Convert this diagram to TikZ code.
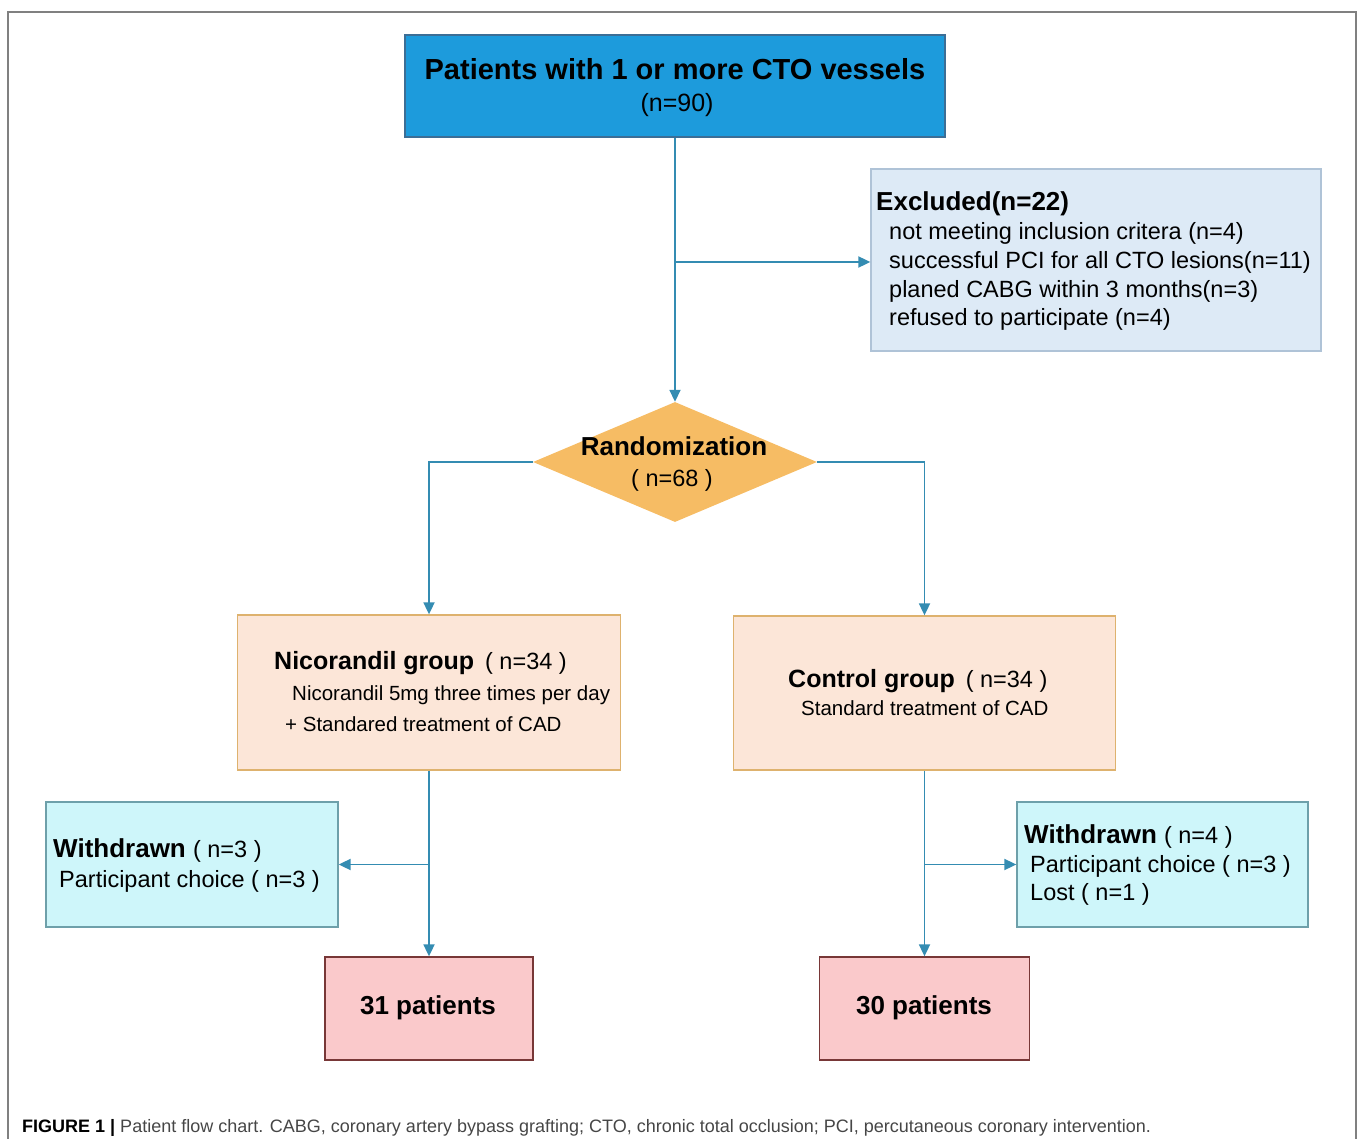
\documentclass[tikz,border=0pt]{standalone}
\usepackage{fontspec}
\setmainfont{Liberation Sans}
\usetikzlibrary{positioning,shapes.geometric,arrows.meta}

\definecolor{topblue}{RGB}{29,155,220}
\definecolor{topedge}{RGB}{60,110,150}
\definecolor{exblue}{RGB}{221,234,246}
\definecolor{exedge}{RGB}{175,195,215}
\definecolor{randorange}{RGB}{246,188,100}
\definecolor{grppeach}{RGB}{252,230,216}
\definecolor{grpedge}{RGB}{222,178,110}
\definecolor{wdcyan}{RGB}{206,246,250}
\definecolor{wdedge}{RGB}{110,160,170}
\definecolor{endpink}{RGB}{250,201,203}
\definecolor{endedge}{RGB}{120,55,55}
\definecolor{flowline}{RGB}{52,140,178}
\definecolor{capgray}{RGB}{70,70,70}

\newcommand\ttlfont{\fontsize{29}{34}\selectfont\bfseries}
\newcommand\hdfont{\fontsize{26}{31}\selectfont\bfseries}
\newcommand\grpfont{\fontsize{25}{30}\selectfont\bfseries}
\newcommand\txfont{\fontsize{23.5}{29}\selectfont}
\newcommand\subfont{\fontsize{20.5}{25}\selectfont}

\tikzset{
  box/.style={draw,rectangle,inner sep=0pt,line width=1.3pt},
  flow/.style={draw=flowline,line width=1.8pt,-{Triangle[length=12pt,width=11pt]}},
  txt/.style={anchor=base west,inner sep=0pt},
  ctxt/.style={anchor=base,inner sep=0pt},
  frame/.style={draw=gray,line width=1.5pt}
}

\begin{document}
\begin{tikzpicture}[x=1pt,y=-1pt]
\useasboundingbox (0,0) rectangle (1358,1139);
\draw[frame] (8,1139) -- (8,12) -- (1356,12) -- (1356,1139);

\node[box,fill=topblue,draw=topedge,minimum width=540,minimum height=102](pat) at (675,86){};
\node[box,fill=exblue,draw=exedge,minimum width=450,minimum height=182](excl) at (1096,260){};
\node[diamond,fill=randorange,inner sep=0pt,minimum width=284,minimum height=120](rand) at (675,462){};
\node[box,fill=grppeach,draw=grpedge,minimum width=383,minimum height=155](nico) at (429,692.5){};
\node[box,fill=grppeach,draw=grpedge,minimum width=382,minimum height=154](ctrl) at (924.5,693){};
\node[box,fill=wdcyan,draw=wdedge,minimum width=292,minimum height=125](wdl) at (192,864.5){};
\node[box,fill=wdcyan,draw=wdedge,minimum width=291,minimum height=125](wdr) at (1162.5,864.5){};
\node[box,fill=endpink,draw=endedge,minimum width=208,minimum height=103](endl) at (429,1008.5){};
\node[box,fill=endpink,draw=endedge,minimum width=210,minimum height=103](endr) at (924.5,1008.5){};

\node[ctxt](pat1) at (675,80){\ttlfont Patients with 1 or more CTO vessels};
\node[ctxt](pat2) at (677,112){\fontsize{25}{30}\selectfont (n=90)};

\node[txt](ex0) at (876,211){\hdfont Excluded(n=22)};
\node[txt](ex1) at (889,240){\txfont not meeting inclusion critera (n=4)};
\node[txt](ex2) at (889,269){\txfont successful PCI for all CTO lesions(n=11)};
\node[txt](ex3) at (889,298){\txfont planed CABG within 3 months(n=3)};
\node[txt](ex4) at (889,326){\txfont refused to participate (n=4)};

\node[ctxt](rand1) at (674,456){\hdfont Randomization};
\node[ctxt](rand2) at (672,486){\txfont ( n=68 )};

\node[txt](nico1) at (274,669){\grpfont Nicorandil group {\txfont\mdseries\kern4pt ( n=34 )}};
\node[txt](nico2) at (292,700){\subfont Nicorandil 5mg three times per day};
\node[txt](nico3) at (285,731){\subfont + Standared treatment of CAD};

\node[txt](ctrl1) at (788,687){\grpfont Control group {\txfont\mdseries\kern4pt ( n=34 )}};
\node[txt](ctrl2) at (801,715){\subfont Standard treatment of CAD};

\node[txt](wdl1) at (53,857){\hdfont Withdrawn {\txfont\mdseries ( n=3 )}};
\node[txt](wdl2) at (59,887){\txfont Participant choice ( n=3 )};

\node[txt](wdr1) at (1024,843){\hdfont Withdrawn {\txfont\mdseries ( n=4 )}};
\node[txt](wdr2) at (1030,872){\txfont Participant choice ( n=3 )};
\node[txt](wdr3) at (1030,900){\txfont Lost ( n=1 )};

\node[ctxt](endl1) at (428,1014){\hdfont 31 patients};
\node[ctxt](endr1) at (924,1014){\hdfont 30 patients};

\node[txt](cap) at (22,1132){\fontsize{18}{22}\selectfont\textbf{FIGURE 1 |} {\color{capgray}Patient flow chart. CABG, coronary artery bypass grafting; CTO, chronic total occlusion; PCI, percutaneous coronary intervention.}};

\coordinate (exj) at (pat.south |- 0,262);
\coordinate (wlj) at (nico.south |- wdl.east);
\coordinate (wrj) at (ctrl.south |- wdr.west);
\draw[flow] (pat.south) -- (rand.north);
\draw[flow] (exj) -- (excl.west |- exj);
\draw[flow] (rand.west) -| (nico.north);
\draw[flow] (rand.east) -| (ctrl.north);
\draw[flow] (nico.south) -- (endl.north);
\draw[flow] (ctrl.south) -- (endr.north);
\draw[flow] (wlj) -- (wdl.east);
\draw[flow] (wrj) -- (wdr.west);

\end{tikzpicture}
\end{document}
